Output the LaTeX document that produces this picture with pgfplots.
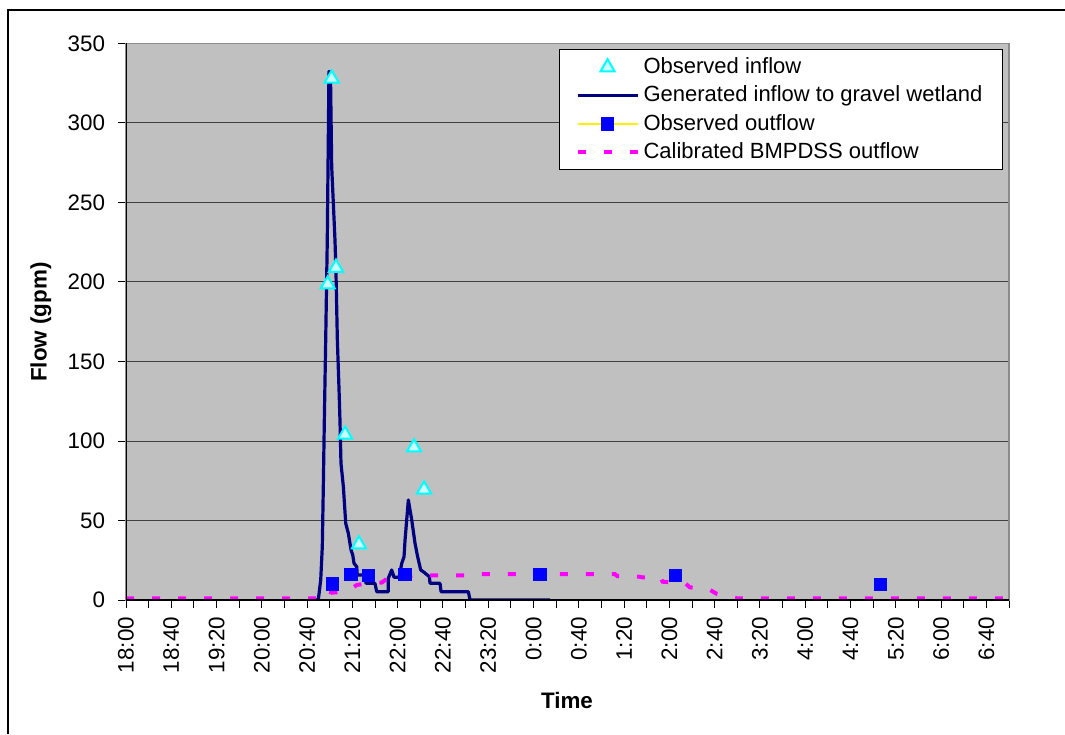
\documentclass[border=0pt]{standalone}
\usepackage{fontspec}
\setmainfont{Liberation Sans}
\usepackage{pgfplots}
\pgfplotsset{compat=1.18}
\definecolor{plotgray}{HTML}{C0C0C0}
\definecolor{genblue}{HTML}{000080}
\definecolor{obsin}{HTML}{00FFFF}
\definecolor{obsinfill}{HTML}{CCFFFF}
\definecolor{obsout}{HTML}{0000FF}
\definecolor{calmag}{HTML}{FF00FF}

% legend images, 30pt long
\pgfplotsset{
 lineleg/.style={legend image code/.code={\draw[##1] (0pt,0pt) -- (30pt,0pt);}},
 markleg/.style={legend image code/.code={\draw[##1] plot coordinates {(15pt,0pt)};}},
 yellowleg/.style={legend image code/.code={\draw[yellow, line width=0.6pt] (0pt,0pt) -- (30pt,0pt);
 \draw[##1] plot coordinates {(15pt,0pt)};}},
}
\newcommand{\chartfont}{\fontsize{11.2}{13}\selectfont}

\begin{document}
\chartfont
\begin{tikzpicture}
\useasboundingbox (0pt,0pt) rectangle (532.5pt,367pt);
% outer chart frame (cut at right and bottom as in the source)
\draw[line width=1pt] (4pt,0pt) -- (4pt,362pt) -- (532.5pt,362pt);

\begin{axis}[
 at={(63pt,67pt)}, anchor=south west,
 scale only axis, width=441.5pt, height=278.25pt,
 xmin=0, xmax=780, ymin=0, ymax=350,
 axis background/.style={fill=plotgray},
 axis line style={draw=black!45, line width=0.8pt},
 tick align=outside, tick pos=left,
 major tick length=3.8pt, minor tick length=3.8pt,
 tick style={black, line width=0.5pt},
 xtick={0,40,...,760},
 minor xtick={20,60,...,780},
 xticklabels={18:00,18:40,19:20,20:00,20:40,21:20,22:00,22:40,23:20,0:00,0:40,1:20,2:00,2:40,3:20,4:00,4:40,5:20,6:00,6:40},
 ytick={0,50,...,350},
 ymajorgrids, grid style={black!75, line width=0.5pt},
 /pgf/number format/assume math mode=true,
 ticklabel style={font=\chartfont},
 % the shift comes after the rotation, so xshift moves the label down
 xticklabel style={font=\chartfont, rotate=90, anchor=east, inner sep=0pt, xshift=-4.5pt},
 yticklabel style={font=\chartfont, anchor=east, inner sep=0pt, xshift=-6.5pt},
 legend style={at={(0.9929,0.9896)}, anchor=north east, draw=black, fill=white,
 font=\fontsize{11}{13}\selectfont, inner xsep=8pt, inner ysep=2pt, row sep=0.5pt},
 legend cell align=left,
]

% legend entries (drawn in the legend order, plots come later)
\addlegendimage{only marks, mark=triangle*, mark size=4.1pt,
 mark options={draw=obsin, fill=obsinfill, line width=1pt}, markleg}
\addlegendentry{Observed inflow}
\addlegendimage{genblue, line width=1.5pt, lineleg}
\addlegendentry{Generated inflow to gravel wetland}
\addlegendimage{only marks, mark=square*, mark size=3.1pt,
 mark options={draw=obsout, fill=obsout}, yellowleg}
\addlegendentry{Observed outflow}
\addlegendimage{calmag, line width=2pt, dash pattern=on 4pt off 9pt, lineleg}
\addlegendentry{Calibrated BMPDSS outflow}

% generated inflow to gravel wetland (minutes after 18:00, gpm)
\addplot[genblue, line width=1.6pt, line join=round, forget plot] coordinates {
 (167.8,0) (169.9,0.4) (172.0,12.6) (173.4,33.5) (174.3,71.3) (175.2,113.2)
 (176.4,163.5) (177.8,226.4) (179.3,332.3) (180.6,332) (181.7,272.5)
 (184.6,226.4) (185.5,205.5) (186.7,163.5) (188.2,132) (189.0,113.2)
 (189.9,86) (192.0,71.3) (194.1,48.2) (196.4,41.9) (198.8,31.4)
 (200.3,28.3) (201.4,23.1) (203.8,20.9) (204.3,15.7) (211.1,15.7)
 (212.0,10.5) (219.9,10.5) (221.5,5.2) (231.7,5.2) (231.7,13.6)
 (234.7,18.9) (236.8,14.3) (241.2,14.3) (243.6,23.1) (245.6,27.2)
 (246.5,37.7) (249.4,62.9) (252.4,50.3) (255.3,35.7) (257.3,28.3)
 (260.3,18.9) (262.6,17.8) (267.9,14.7) (268.6,10.5) (277.4,10.5)
 (278.3,5.2) (302.4,5.2) (303.9,0) (374.6,0)
};

% calibrated BMPDSS outflow
\addplot[calmag, line width=2pt, dash pattern=on 4pt off 9pt, forget plot] coordinates {
 (0,1) (180,1) (181,4.5) (195,5.5) (200,7.5) (204,9.5) (215,10.5)
 (226,11) (229,12.6) (240,13.5) (250,15) (260,15.5) (313,15.5)
 (314,16.2) (432,16.2) (434,15) (450,15) (456,14.3) (472,14.3)
 (474,11.5) (494,10.5) (498,8) (516,6.3) (522,3.8) (540,1) (780,1)
};

% observed outflow
\addplot[only marks, mark=square*, mark size=3.1pt,
 mark options={draw=obsout, fill=obsout}, forget plot] coordinates {
 (182.2,10.1) (198.8,16.2) (214.0,15.5) (246.5,16.2) (365.7,16.2)
 (485.3,15.5) (666.3,9.9)
};

% observed inflow
\addplot[only marks, mark=triangle*, mark size=4.1pt,
 mark options={draw=obsin, fill=obsinfill, line width=1pt}, forget plot] coordinates {
 (178.2,198.5) (181.7,328) (185.5,209) (193.5,104) (205.8,35)
 (254.4,96) (263.3,69.5)
};

% left and bottom axis lines in black
\draw[black, line width=0.8pt] (rel axis cs:0,1) -- (rel axis cs:0,0) -- (rel axis cs:1,0);
\end{axis}

\node[rotate=90, font=\chartfont\bfseries] at (20.5pt,206pt) {Flow (gpm)};
\node[font=\chartfont\bfseries] at (283.5pt,17pt) {Time};
\end{tikzpicture}
\end{document}
